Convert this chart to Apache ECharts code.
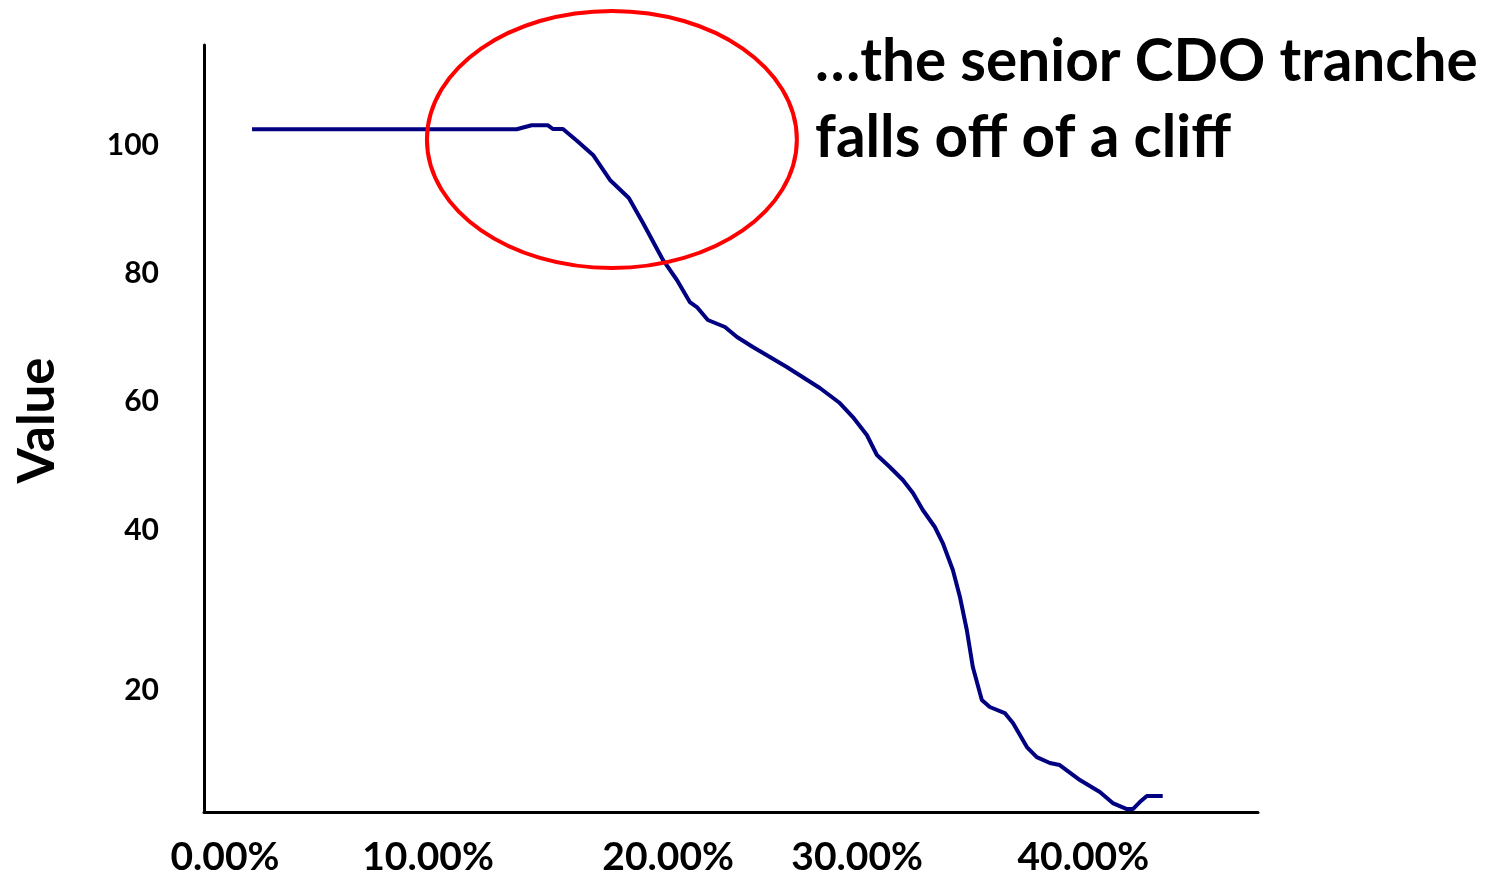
<!DOCTYPE html>
<html>
<head>
<meta charset="utf-8">
<script src="https://cdn.jsdelivr.net/npm/echarts@6/dist/echarts.min.js"></script>
<style>
  html, body { margin: 0; padding: 0; background: #ffffff; }
  #chart { width: 1488px; height: 872px; }
</style>
</head>
<body>
<div id="chart"></div>
<script>
// ---- data (x in %, y in value units) ----
const lossPct = [1.26, 13.59, 14.29, 15.05, 15.28, 15.75, 16.40, 17.15, 17.94, 18.82, 19.48, 20.41, 21.06, 21.66, 21.99, 22.50, 23.30, 23.86, 24.60, 26.18, 27.72, 28.65, 29.26, 29.91, 30.38, 30.98, 31.59, 32.06, 32.52, 33.08, 33.45, 33.92, 34.25, 34.57, 34.85, 35.18, 35.27, 35.64, 36.34, 36.72, 37.37, 37.83, 38.44, 38.90, 39.84, 40.77, 41.37, 42.03, 42.31, 42.63, 42.96, 43.70];
const trancheValue = [102.45, 102.45, 103.07, 103.07, 102.49, 102.49, 100.67, 98.44, 94.55, 91.74, 87.84, 82.08, 78.96, 75.53, 74.75, 72.73, 71.64, 70.08, 68.52, 65.40, 62.13, 59.79, 57.61, 54.81, 51.69, 49.82, 47.79, 45.77, 43.12, 40.47, 37.97, 33.77, 29.56, 24.42, 18.65, 14.60, 13.51, 12.42, 11.48, 9.92, 6.18, 4.62, 3.69, 3.38, 1.04, -0.83, -2.55, -3.48, -3.48, -2.39, -1.45, -1.45];

// tick labels and where the reference places them on each axis
const xTickLabels = ['0.00%', '10.00%', '20.00%', '30.00%', '40.00%'];
const xTickAt = [0, 9.46, 20.65, 29.46, 40];
const yTickLabels = ['100', '80', '60', '40', '20'];
const yTickAt = [100, 80, 60, 40, 15.07];

const yAxisTitle = 'Value';
const noteText = '\u2026the senior CDO tranche\nfalls off of a cliff';

// circled region (data units): centre and radii
const circleCenter = [18.03, 100.86];
const circleRadius = [8.62, 20.03];

const FONT = 'Lato';
const chart = echarts.init(document.getElementById('chart'), null, { renderer: 'canvas' });

const seriesData = lossPct.map((x, i) => [x, trancheValue[i]]);

function lookup(values, labels, v) {
  for (let i = 0; i < values.length; i++) {
    if (Math.abs(values[i] - v) < 1e-6) return labels[i];
  }
  return '';
}

chart.setOption({
  animation: false,
  backgroundColor: '#ffffff',
  title: {
    text: noteText,
    left: 810,
    top: 19,
    textStyle: {
      fontFamily: FONT,
      fontSize: 58.5,
      fontWeight: 'bold',
      lineHeight: 76,
      color: '#000000'
    }
  },
  grid: { left: 204, right: 230, top: 45, bottom: 60, containLabel: false, outerBoundsMode: 'none' },
  xAxis: {
    type: 'value',
    min: -0.979,
    max: 48.14,
    splitLine: { show: false },
    axisTick: { show: false },
    axisLine: { show: true, onZero: false, lineStyle: { color: '#000000', width: 3 } },
    axisLabel: {
      customValues: xTickAt,
      formatter: (v) => lookup(xTickAt, xTickLabels, v),
      fontFamily: FONT,
      fontSize: 39,
      fontWeight: 'bold',
      color: '#000000',
      margin: 26,
      showMinLabel: true,
      showMaxLabel: true
    }
  },
  yAxis: {
    type: 'value',
    min: -3.94,
    max: 115.58,
    name: yAxisTitle,
    nameLocation: 'middle',
    nameRotate: 90,
    nameGap: 141,
    nameTextStyle: { fontFamily: FONT, fontSize: 51, fontWeight: 'bold', color: '#000000', padding: [0, 0, 0, 16] },
    splitLine: { show: false },
    axisTick: { show: false },
    axisLine: { show: true, onZero: false, lineStyle: { color: '#000000', width: 3 } },
    axisLabel: {
      customValues: yTickAt,
      formatter: (v) => lookup(yTickAt, yTickLabels, v),
      fontFamily: FONT,
      fontSize: 30,
      fontWeight: 'bold',
      color: '#000000',
      margin: 45
    }
  },
  series: [{
    type: 'line',
    data: seriesData,
    symbol: 'none',
    smooth: false,
    lineStyle: { color: '#000080', width: 4 },
    z: 3
  }]
});

// red ellipse annotation placed through the axes' scales
const c = chart.convertToPixel({ gridIndex: 0 }, circleCenter);
const ex = chart.convertToPixel({ gridIndex: 0 }, [circleCenter[0] + circleRadius[0], circleCenter[1]]);
const ey = chart.convertToPixel({ gridIndex: 0 }, [circleCenter[0], circleCenter[1] + circleRadius[1]]);
chart.setOption({
  graphic: [{
    type: 'ellipse',
    shape: { cx: c[0], cy: c[1], rx: Math.abs(ex[0] - c[0]), ry: Math.abs(c[1] - ey[1]) },
    style: { fill: 'none', stroke: '#ff0000', lineWidth: 4 },
    z: 10
  }]
});
</script>
</body>
</html>
